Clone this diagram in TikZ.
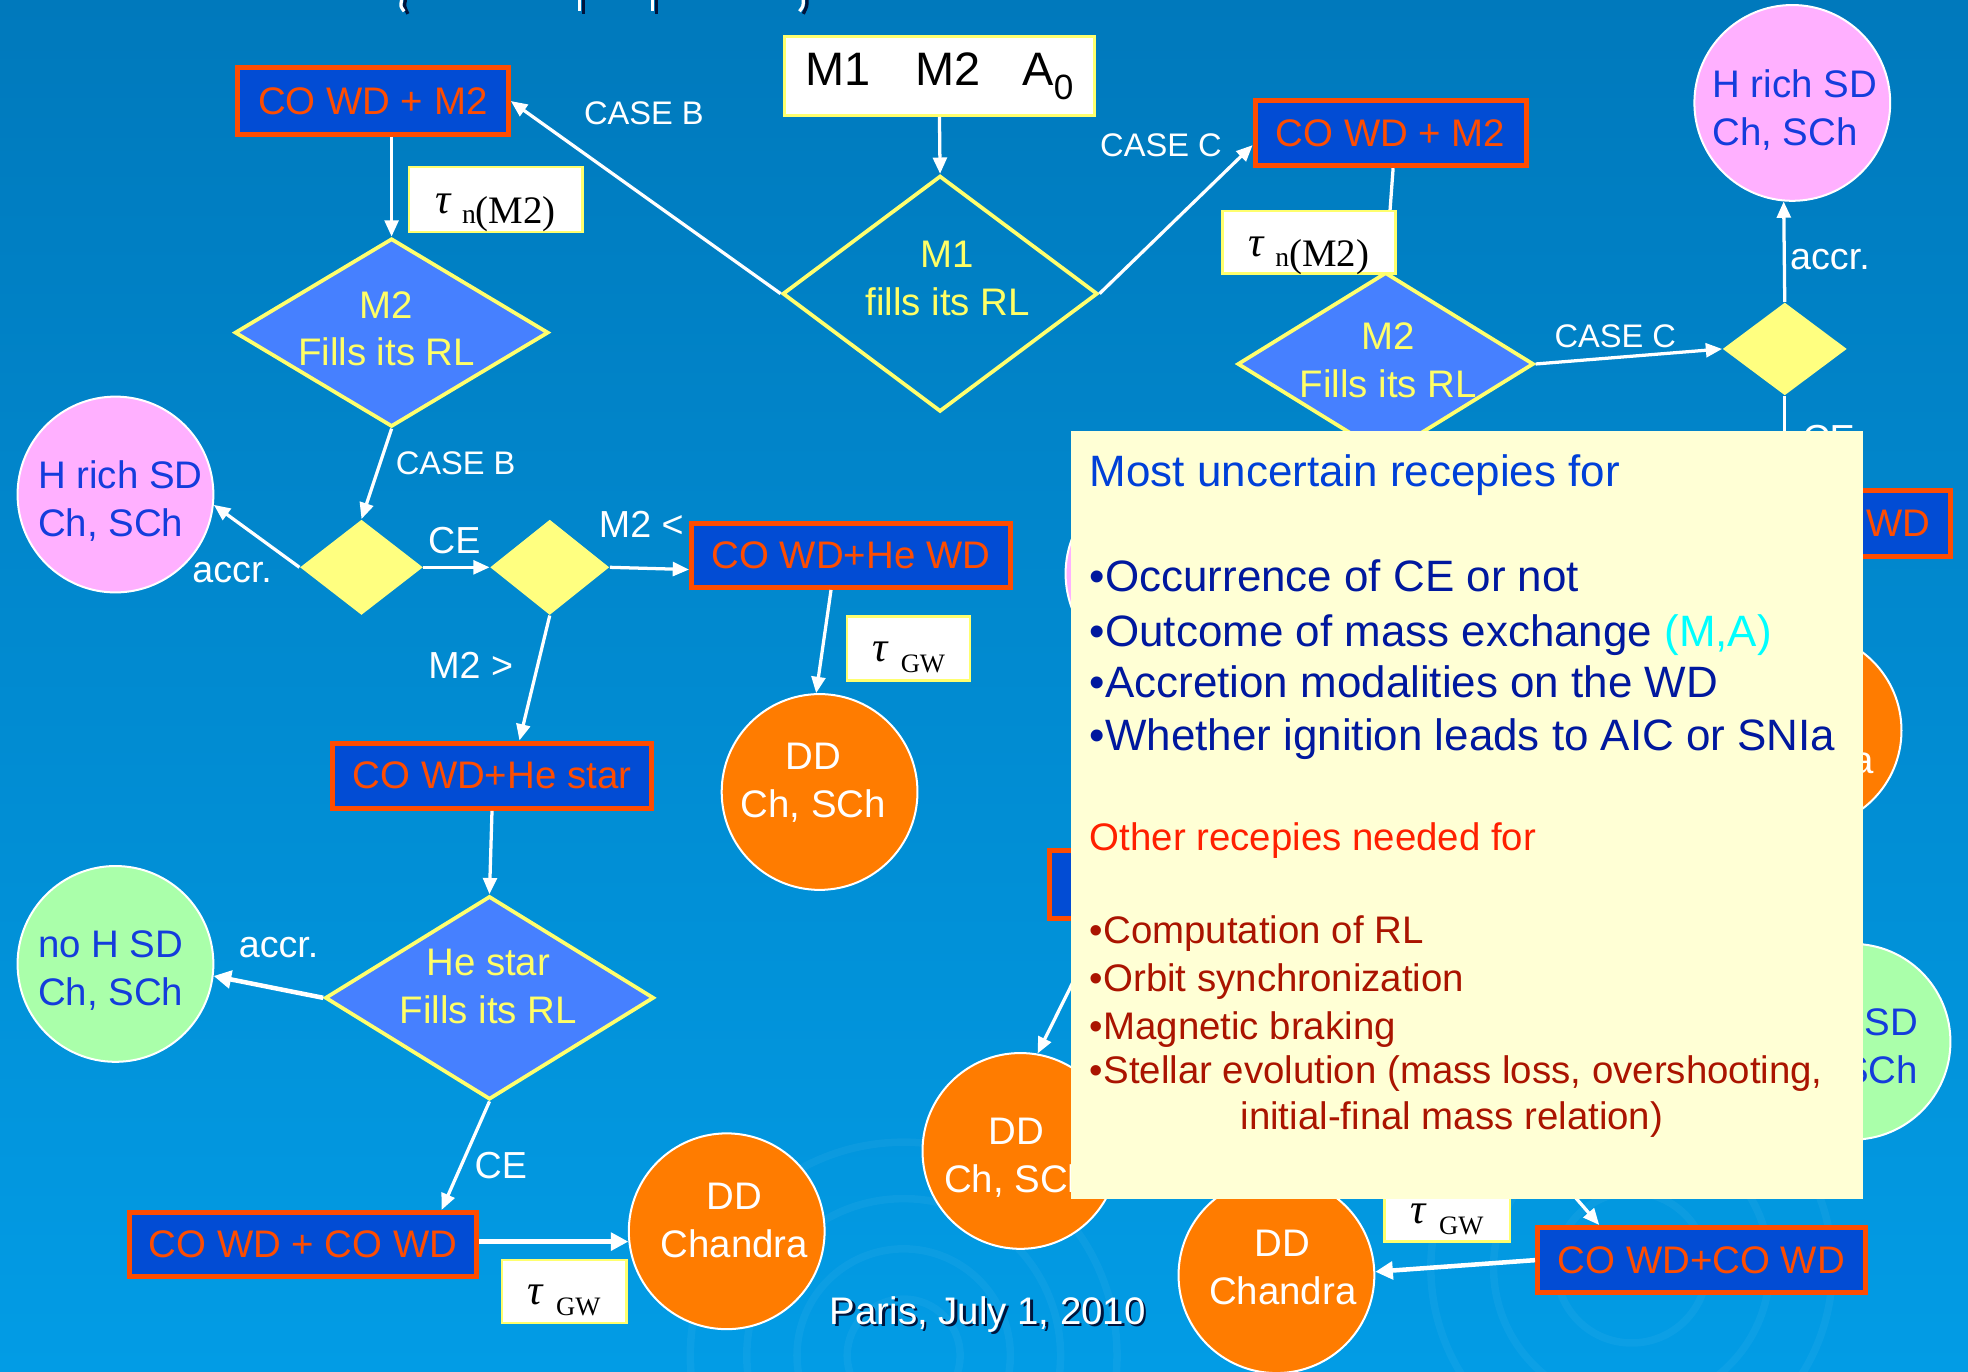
\documentclass[tikz,border=0pt]{standalone}
\usepackage{fontspec}
\setmainfont{Liberation Sans}
\newfontfamily\serifz{Liberation Serif}
\usetikzlibrary{shapes.geometric,arrows.meta}
\newcommand\fz[2]{\fontsize{#1pt}{#2pt}\selectfont}
\newcommand\taun{\raisebox{-9.5pt}[0pt][0pt]{\serifz{\fz{17}{17}\raisebox{4pt}{\itshape τ}}\hspace{0.3em}{\fz{11}{11}n}{\fz{15.5}{16}(M2)}}}
\newcommand\taugw{\raisebox{-9.75pt}[0pt][0pt]{\serifz{\fz{17}{17}\raisebox{4.5pt}{\itshape τ}}\hspace{0.35em}{\fz{10.6}{11}GW}}}
\definecolor{bgtop}{RGB}{0,121,188}
\definecolor{bgbot}{RGB}{2,156,229}
\definecolor{boxfill}{RGB}{2,76,212}
\definecolor{boxline}{RGB}{255,76,0}
\definecolor{boxtext}{RGB}{255,76,0}
\definecolor{dfill}{RGB}{70,128,255}
\definecolor{dline}{RGB}{255,255,110}
\definecolor{dtext}{RGB}{255,255,102}
\definecolor{sfill}{RGB}{255,255,128}
\definecolor{pinkfill}{RGB}{255,176,255}
\definecolor{greenfill}{RGB}{170,255,170}
\definecolor{orangefill}{RGB}{255,124,0}
\definecolor{ctext}{RGB}{20,60,220}
\definecolor{notefill}{RGB}{255,255,213}
\definecolor{noteblue}{RGB}{0,64,216}
\definecolor{notedblue}{RGB}{0,24,158}
\definecolor{notecyan}{RGB}{0,255,255}
\definecolor{notered}{RGB}{255,32,0}
\definecolor{notedred}{RGB}{170,20,0}
\definecolor{shadowc}{RGB}{0,20,60}
\begin{document}
\begin{tikzpicture}[x=0.5pt,y=-0.5pt,
  cobox/.style={rectangle, draw=boxline, line width=2pt, fill=boxfill, text=boxtext, font=\fz{15.3}{18}, inner sep=0pt},
  taubox/.style={rectangle, draw=dline, line width=1pt, fill=white, text=black, font=\fz{15}{18}, inner sep=0pt},
  bigdia/.style={diamond, draw=dline, line width=1.5pt, fill=dfill, inner sep=0pt},
  smalldia/.style={diamond, fill=sfill, inner sep=0pt},
  dtxt/.style={text=dtext, font=\fz{15.3}{19}, align=center, inner sep=0pt},
  sdpink/.style={circle, draw=white, line width=0.8pt, fill=pinkfill, inner sep=0pt, minimum size=78pt},
  sdgreen/.style={sdpink, fill=greenfill},
  ddorange/.style={circle, draw=white, line width=0.8pt, fill=orangefill, inner sep=0pt, minimum size=78pt},
  sdtxt/.style={anchor=west, text=ctext, font=\fz{15.3}{19}, align=left, inner sep=0pt},
  ddtxt/.style={text=white, font=\fz{15.3}{19}, align=center, inner sep=0pt},
  lbl/.style={text=white, font=\fz{15}{15}, inner sep=0pt},
  lblcase/.style={text=white, font=\fz{13}{13}, inner sep=0pt},
  conn/.style={draw=white, line width=1.3pt, -{Triangle[length=6.5pt,width=5.5pt]}},
  connthick/.style={draw=white, line width=1.8pt, -{Triangle[length=7pt,width=7pt]}},
  ntxtA/.style={anchor=base west, inner sep=0pt, font=\fz{17.5}{20}},
  ntxtB/.style={anchor=base west, inner sep=0pt, font=\fz{15.3}{18}},
  ripple/.style={draw=white, opacity=0.045, line width=3pt}
]
\useasboundingbox (0,0) rectangle (1568,1093);
\shade[top color=bgtop, bottom color=bgbot] (0,0) rectangle (1568,1093);
% faint background ripples
\foreach \r in {45,85,125,170} \draw[ripple] (720,1080) circle[radius=\r];
\foreach \r in {60,110,160} \draw[ripple] (1300,1010) circle[radius=\r];
% clipped title fragments
\begin{scope}[line width=1.3pt]
  \draw[shadowc] (323,0) .. controls (322,5) .. (325,11);
  \draw[white] (320,0) .. controls (319,5) .. (322,9);
  \draw[shadowc] (465,0) -- (465,11);  \draw[white] (462,0) -- (462,9);
  \draw[shadowc] (523,0) -- (523,11);  \draw[white] (520,0) -- (520,9);
  \draw[shadowc] (643,0) .. controls (643,5) .. (640,11);
  \draw[white] (640,0) .. controls (640,5) .. (637,9);
\end{scope}

% ---------- nodes ----------
\node[taubox, line width=1.2pt, minimum width=123.5pt, minimum height=31.5pt, font=\fz{18.7}{22}] (start) at (748.5,60.5)
  {M1\hspace{0.95em}M2\hspace{0.9em}A\raisebox{-0.3em}{\fz{14}{14}0}};

\node[bigdia, fill=none, minimum width=125.5pt, minimum height=94pt] (d0) at (749,234) {};
\node[bigdia, minimum width=125pt, minimum height=75pt] (d1) at (312,265) {};
\node[bigdia, minimum width=118pt, minimum height=73pt] (d2) at (1104,290) {};
\node[bigdia, minimum width=131pt, minimum height=81pt] (d3) at (390,795) {};
\node[smalldia, minimum width=49pt, minimum height=38pt] (s1) at (288,452) {};
\node[smalldia, minimum width=47.5pt, minimum height=38pt] (s2) at (438,452) {};
\node[smalldia, minimum width=49.5pt, minimum height=37pt] (s3) at (1422,278) {};

\node[dtxt] (d0t) at (755,222) {M1\\fills its RL};
\node[dtxt] (d1t) at (308,262) {M2\\Fills its RL};
\node[dtxt] (d2t) at (1106,287) {M2\\Fills its RL};
\node[dtxt] (d3t) at (389,786) {He star\\Fills its RL};

\node[cobox, minimum width=108pt, minimum height=26.5pt] (b1) at (297,80.5) {CO WD + M2};
\node[cobox, minimum width=108pt, minimum height=26pt] (b2) at (1108,106) {CO WD + M2};
\node[cobox, minimum width=127pt, minimum height=25.5pt] (b3) at (678,442.5) {CO WD+He WD};
\node[cobox, minimum width=127pt, minimum height=26pt] (b4) at (392,618) {CO WD+He star};
\node[cobox, minimum width=138.5pt, minimum height=25.5pt] (b5) at (241.5,991.5) {CO WD + CO WD};
\node[cobox, minimum width=130.5pt, minimum height=26pt] (b6) at (1355.5,1004) {CO WD+CO WD};
\node[cobox, minimum width=127pt, minimum height=26pt] (b7) at (1427,417) {CO WD+He WD};
\node[cobox, minimum width=127pt, minimum height=27pt] (b8) at (963,705) {};

\node[sdpink] (c1) at (92,394) {};
\node[sdpink] (c2) at (1428,82) {};
\node[ddorange] (c3) at (653,631) {};
\node[sdgreen] (c4) at (92,768) {};
\node[ddorange] (c5) at (579,981) {};
\node[ddorange] (c6) at (813,917) {};
\node[ddorange] (c7) at (1017,1016) {};
\node[sdpink] (c8) at (927,457) {};
\node[ddorange] (c9) at (1437,582) {};
\node[sdgreen] (c10) at (1476,830) {};

\node[sdtxt] (c1t) at (30,399) {H rich SD\\Ch, SCh};
\node[sdtxt] (c2t) at (1364,87.5) {H rich SD\\Ch, SCh};
\node[ddtxt] (c3t) at (648,623.5) {DD\\Ch, SCh};
\node[sdtxt] (c4t) at (30,773.5) {no H SD\\Ch, SCh};
\node[ddtxt] (c5t) at (585,972.5) {DD\\Chandra};
\node[ddtxt] (c6t) at (810,922.5) {DD\\Ch, SCh};
\node[ddtxt] (c7t) at (1022,1010) {DD\\Chandra};
\node[ddtxt] (c9t) at (1434,586.5) {DD\\Chandra};
\node[sdtxt] (c10t) at (1412,835.5) {no H SD\\Ch, SCh};

\coordinate (h1) at (1230,925);
\coordinate (h2) at (1422,400);
\coordinate (h3) at (870,752);

% ---------- connectors ----------
\draw[conn] (start.south) -- (d0.north);
\draw[conn] (d0.west) -- (b1.east);
\draw[conn] (d0.east) -- (b2.185);
\draw[conn] (b1.south -| d1.north) -- (d1.north);
\draw[conn] (b2.-86) -- (d2.north);
\draw[conn] (d1.south) -- (s1.north);
\draw[conn] (s1.east) -- (s2.west);
\draw[conn] (s1.west) -- (c1.-6);
\draw[conn] (s2.east) -- (b3.185);
\draw[conn] (s2.south) -- (b4.52);
\draw[conn] (b3.-120) -- (c3.92);
\draw[conn] (b4.south) -- (d3.north);
\draw[connthick] (d3.west) -- (c4.-7);
\draw[conn] (d3.south) -- (b5.14);
\draw[connthick] (b5.east |- c5.186) -- (c5.186);
\draw[conn] (d2.east) -- (s3.west);
\draw[conn] (s3.north) -- (c2.265);
\draw[conn] (s3.south) -- (h2);
\draw[conn] (h3) -- (c6.80);
\draw[connthick] (b6.west) -- (c7.2);
\draw[conn] (h1) -- (b6.161);

% tau boxes (over connectors)
\node[taubox, minimum width=69pt, minimum height=26pt] (t1) at (395,159) {\taun};
\node[taubox, minimum width=69pt, minimum height=25pt] (t2) at (1043,193) {\taun};
\node[taubox, minimum width=49pt, minimum height=25.5pt] (t3) at (724,516.5) {\taugw};
\node[taubox, minimum width=49.5pt, minimum height=25pt] (t4) at (449.5,1029) {\taugw};
\node[taubox, minimum width=50pt, minimum height=25pt] (t5) at (1153,964) {\taugw};

% ---------- labels ----------
\node[lblcase] (l1) at (513,90) {CASE B};
\node[lblcase] (l2) at (925,116) {CASE C};
\node[lblcase] (l3) at (363,369) {CASE B};
\node[lblcase] (l4) at (1287,268) {CASE C};
\node[lbl] (l5) at (362,431) {CE};
\node[lbl] (l6) at (185,456) {accr.};
\node[lbl] (l7) at (511,418) {M2 <};
\node[lbl] (l8) at (375,530) {M2 >};
\node[lbl] (l9) at (222,755) {accr.};
\node[lbl] (l10) at (399,929) {CE};
\node[lbl] (l11) at (1458,207) {accr.};
\node[lbl] (l12) at (1457,349) {CE};

% footer
\node[text=shadowc, font=\fz{15.3}{18}, inner sep=0pt] (footsh) at (789,1049) {Paris, July 1, 2010};
\node[text=white, font=\fz{15.3}{18}, inner sep=0pt] (foot) at (787,1047) {Paris, July 1, 2010};

% ---------- note ----------
\node[rectangle, fill=notefill, inner sep=0pt, minimum width=315.5pt, minimum height=306pt] (note) at (1168.5,649) {};
\node[ntxtA, text=noteblue] (n1) at (868,388) {Most uncertain recepies for};
\node[ntxtA, text=notedblue] (n2) at (868,471) {•Occurrence of CE or not};
\node[ntxtA, text=notedblue] (n3) at (868,515) {•Outcome of mass exchange \textcolor{notecyan}{(M,A)}};
\node[ntxtA, text=notedblue] (n4) at (868,556) {•Accretion modalities on the WD};
\node[ntxtA, text=notedblue] (n5) at (868,598) {•Whether ignition leads to AIC or SNIa};
\node[ntxtB, text=notered] (n6) at (868,678) {Other recepies needed for};
\node[ntxtB, text=notedred] (n7) at (868,752) {•Computation of RL};
\node[ntxtB, text=notedred] (n8) at (868,790) {•Orbit synchronization};
\node[ntxtB, text=notedred] (n9) at (868,828) {•Magnetic braking};
\node[ntxtB, text=notedred] (n10) at (868,863) {•Stellar evolution (mass loss, overshooting,};
\node[ntxtB, text=notedred] (n11) at (988,900) {initial-final mass relation)};
\end{tikzpicture}
\end{document}
